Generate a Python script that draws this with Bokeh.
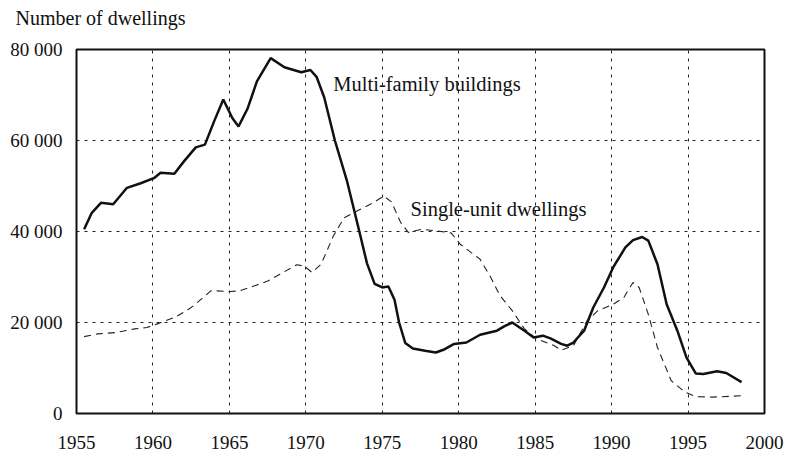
from bokeh.plotting import figure
from bokeh.models import Range1d, FixedTicker, Label, Title
from bokeh.embed import file_html
from bokeh.resources import INLINE

# ---- data ----
multi_years = [1955.5, 1956.0, 1956.6, 1957.4, 1958.3, 1959.2, 1960.1, 1960.5, 1961.4, 1962.0,
               1962.8, 1963.4, 1964.0, 1964.6, 1965.2, 1965.6, 1966.2, 1966.8, 1967.7, 1968.6,
               1969.7, 1970.3, 1970.7, 1971.2, 1971.9, 1972.7, 1973.5, 1974.0, 1974.5, 1975.0,
               1975.4, 1975.8, 1976.1, 1976.5, 1977.0, 1977.8, 1978.5, 1979.0, 1979.7, 1980.5,
               1981.4, 1982.5, 1983.0, 1983.5, 1984.3, 1984.9, 1985.5, 1986.0, 1986.7, 1987.1,
               1987.5, 1988.2, 1988.8, 1989.5, 1990.1, 1990.9, 1991.4, 1992.0, 1992.4, 1993.0,
               1993.6, 1994.3, 1994.9, 1995.5, 1996.0, 1996.9, 1997.5, 1998.5]
multi_values = [40500, 44100, 46300, 46000, 49600, 50600, 51800, 52900, 52700, 55300,
                58500, 59100, 64200, 69000, 64900, 63100, 67100, 73000, 78100, 76100,
                75000, 75500, 74000, 69500, 60000, 51000, 40000, 33000, 28500, 27700,
                27900, 25000, 20000, 15500, 14300, 13800, 13400, 14000, 15300, 15600,
                17300, 18200, 19200, 20000, 18200, 16700, 17100, 16500, 15300, 14900,
                15600, 18200, 23300, 27700, 32100, 36500, 38100, 38800, 38000, 32800,
                24000, 18200, 12300, 8800, 8700, 9300, 8900, 6900]

single_years = [1955.5, 1956.4, 1957.6, 1958.8, 1959.6, 1960.3, 1961.4, 1962.2, 1962.7, 1963.8,
                1965.1, 1965.7, 1966.6, 1967.5, 1968.3, 1969.4, 1969.9, 1970.4, 1971.0, 1971.8,
                1972.5, 1973.4, 1974.4, 1975.1, 1975.6, 1976.2, 1976.7, 1977.6, 1978.6, 1979.5,
                1980.1, 1980.8, 1981.4, 1982.1, 1982.7, 1983.5, 1984.3, 1985.1, 1986.2, 1986.7,
                1987.5, 1988.4, 1989.1, 1990.1, 1990.8, 1991.4, 1991.8, 1992.4, 1993.0, 1993.9,
                1994.8, 1995.5, 1996.6, 1998.5]
single_values = [16900, 17500, 17800, 18600, 18900, 19700, 21100, 22600, 23800, 27000,
                 26800, 27000, 28000, 29100, 30600, 32700, 32400, 31000, 32800, 39000,
                 43000, 44600, 46300, 47800, 46500, 42000, 39800, 40500, 40100, 39700,
                 37200, 35400, 33900, 29900, 25900, 22600, 18600, 16400, 15000, 13900,
                 14900, 20400, 22600, 24000, 25500, 28800, 27700, 21800, 14500, 7200,
                 4700, 3700, 3600, 3900]

x_ticks = [1955, 1960, 1965, 1970, 1975, 1980, 1985, 1990, 1995, 2000]
y_ticks = [0, 20000, 40000, 60000, 80000]
y_tick_labels = ["0", "20 000", "40 000", "60 000", "80 000"]

title_text = "Number of dwellings"
multi_name = "Multi-family buildings"
single_name = "Single-unit dwellings"
multi_label_pos = (1971.8, 72500)
single_label_pos = (1976.85, 44900)

FONT = "Liberation Serif"

p = figure(width=789, height=456,
           x_range=Range1d(1955, 2000), y_range=Range1d(0, 80000),
           output_backend="svg", toolbar_location=None,
           min_border_left=76, min_border_right=25,
           min_border_top=48, min_border_bottom=43)

p.background_fill_color = "white"
p.border_fill_color = "white"
p.outline_line_color = "#111111"
p.outline_line_width = 2

# spacer between the frame and the title (pushes the title upward)
p.add_layout(Title(text=" ", text_font_size="1px", standoff=14), "above")

# title
p.title.text = title_text
p.title.align = "left"
p.title.vertical_align = "bottom"
p.title.text_font = FONT
p.title.text_font_size = "20px"
p.title.text_font_style = "normal"
p.title.text_color = "#111111"
p.title.offset = -61
p.title.standoff = 8

# grids
p.xgrid.ticker = FixedTicker(ticks=x_ticks)
p.ygrid.ticker = FixedTicker(ticks=y_ticks)
for g in (p.xgrid, p.ygrid):
    g.grid_line_color = "#222222"
    g.grid_line_width = 1
    g.grid_line_dash = "3 5"

# axes
p.xaxis.ticker = FixedTicker(ticks=x_ticks)
p.yaxis.ticker = FixedTicker(ticks=y_ticks)
p.yaxis.major_label_overrides = {t: l for t, l in zip(y_ticks, y_tick_labels)}
for ax in (p.xaxis, p.yaxis):
    ax.axis_line_color = None
    ax.major_tick_line_color = None
    ax.minor_tick_line_color = None
    ax.major_tick_out = 0
    ax.major_tick_in = 0
    ax.minor_tick_out = 0
    ax.minor_tick_in = 0
    ax.major_label_text_font = FONT
    ax.major_label_text_font_size = "19px"
    ax.major_label_text_color = "#111111"
p.xaxis.major_label_standoff = 22
p.yaxis.major_label_standoff = 14

# lines
p.line(single_years, single_values, line_color="#222222", line_width=1.1, line_dash="7 5")
p.line(multi_years, multi_values, line_color="#111111", line_width=2.5)

# annotations
p.add_layout(Label(x=multi_label_pos[0], y=multi_label_pos[1], text=multi_name,
                   text_font=FONT, text_font_size="20.5px", text_color="#111111",
                   text_align="left", text_baseline="middle"))
p.add_layout(Label(x=single_label_pos[0], y=single_label_pos[1], text=single_name,
                   text_font=FONT, text_font_size="20.5px", text_color="#111111",
                   text_align="left", text_baseline="middle"))

open("out.html", "w").write(file_html(p, INLINE))
